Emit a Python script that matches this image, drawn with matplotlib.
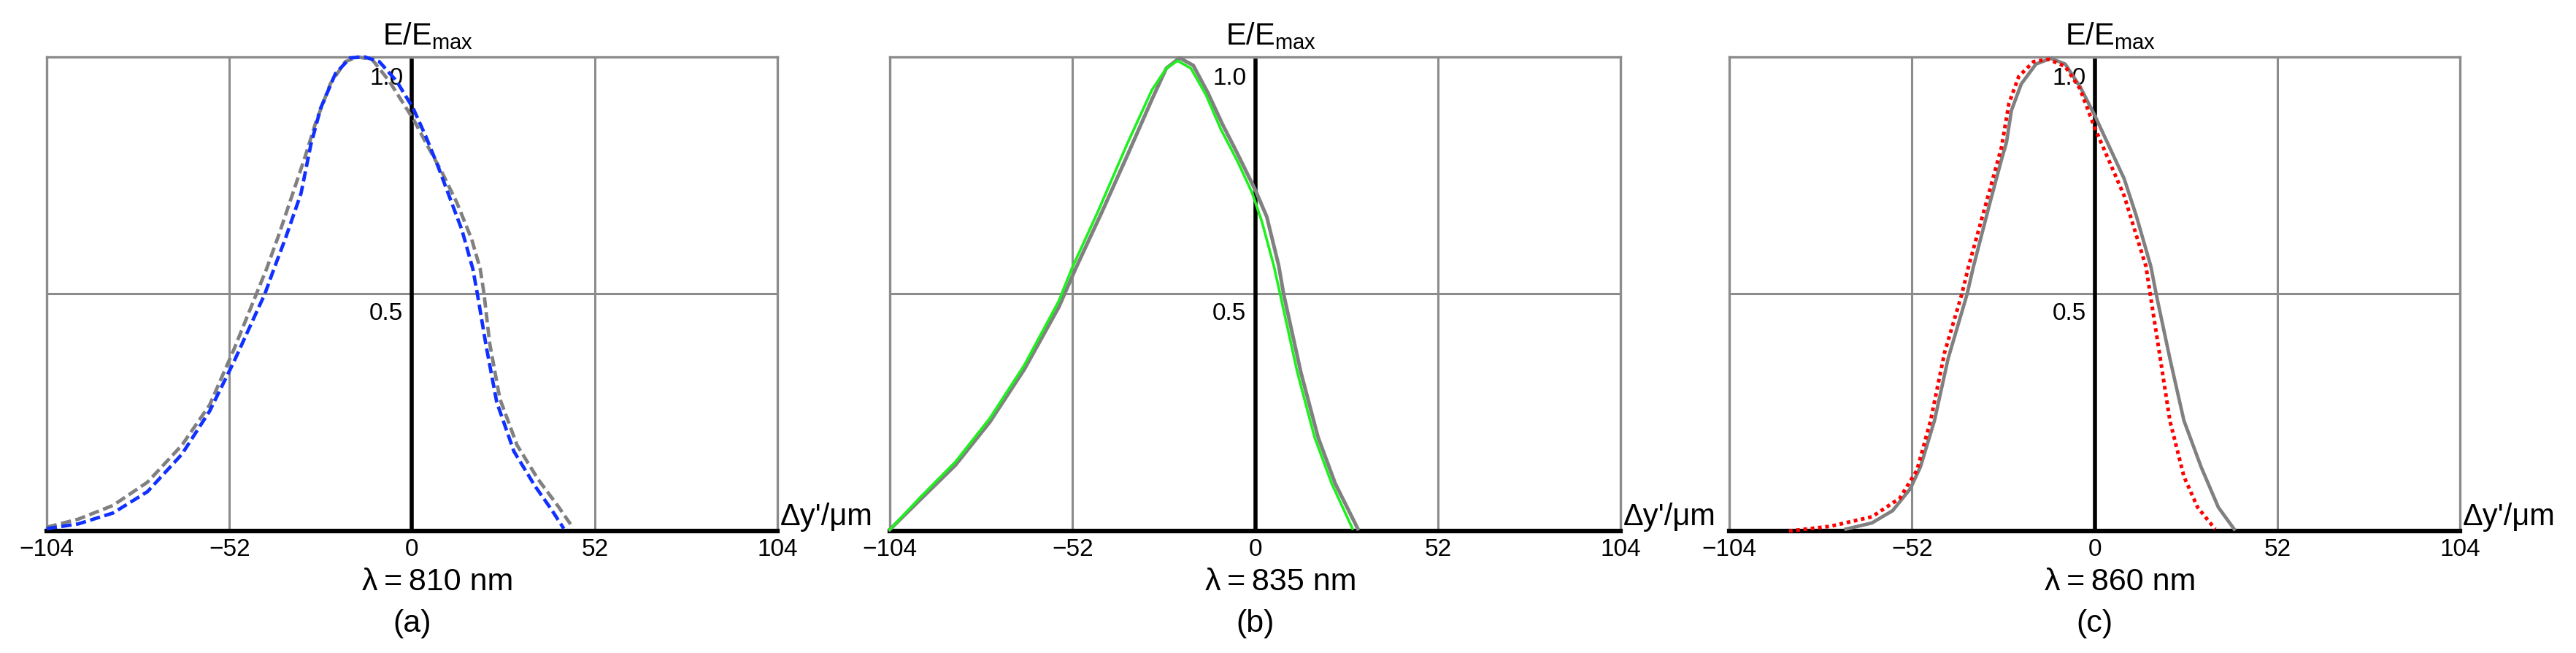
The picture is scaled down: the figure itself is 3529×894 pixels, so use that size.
import matplotlib
matplotlib.use("Agg")
import matplotlib.pyplot as plt

plt.rcParams['font.family'] = ['Liberation Sans', 'DejaVu Sans']
plt.rcParams['mathtext.fontset'] = 'custom'
plt.rcParams['mathtext.rm'] = 'Liberation Sans'
plt.rcParams['mathtext.it'] = 'Liberation Sans:italic'

# x ticks shared by all three panels
xticks = [-104, -52, 0, 52, 104]
xtick_labels = ['\u2212104', '\u221252', '0', '52', '104']

# (a) 810 nm
a_gray_x = [-104, -95, -85.1, -75.3, -65.5, -57.6, -50.7, -44.3, -41.4, -37.9, -34.4, -30.2,
            -27.4, -23.2, -19.0, -15.5, -11.4, -6.5, -3.0, 0.5, 4.6, 8.7, 12.8, 17.0, 19.4,
            20.5, 22.1, 25.0, 29.9, 35.8, 41.7, 45.7]
a_gray_y = [0.008, 0.025, 0.054, 0.103, 0.181, 0.266, 0.383, 0.50, 0.553, 0.625, 0.702, 0.795,
            0.862, 0.944, 0.99, 1.0, 0.995, 0.949, 0.908, 0.867, 0.81, 0.754, 0.692, 0.615, 0.553,
            0.50, 0.396, 0.279, 0.181, 0.11, 0.051, 0.008]
a_blue_x = [-104, -95, -85.1, -75.3, -65.5, -57.6, -50.7, -41.9, -39.3, -36.0, -31.6, -28.8,
            -26.0, -21.8, -17.6, -13.5, -9.3, -4.4, 0.3, 4.0, 7.4, 10.8, 14.2, 17.3, 18.6,
            21.1, 24.1, 29.0, 34.9, 39.8, 43.2]
a_blue_y = [0.005, 0.015, 0.038, 0.083, 0.162, 0.253, 0.357, 0.50, 0.553, 0.618, 0.712, 0.815,
            0.892, 0.965, 0.998, 1.0, 0.99, 0.949, 0.892, 0.831, 0.769, 0.702, 0.635, 0.553, 0.50,
            0.39, 0.272, 0.168, 0.096, 0.044, 0.005]

# (b) 835 nm
b_gray_x = [-104, -95.2, -85.3, -75.5, -65.7, -55.9, -51.0, -43.3, -36.4, -29.4, -25.3, -21.5,
            -17.6, -13.5, -9.3, -5.1, 0, 3.3, 6.7, 8.1, 13.0, 17.9, 22.8, 29.2]
b_gray_y = [0.003, 0.067, 0.139, 0.23, 0.341, 0.472, 0.555, 0.678, 0.792, 0.91, 0.976, 0.998,
            0.982, 0.925, 0.858, 0.797, 0.72, 0.663, 0.56, 0.5, 0.335, 0.198, 0.1, 0.005]
b_green_x = [-104, -95.2, -85.3, -75.5, -65.7, -55.9, -52.1, -44.8, -36.4, -29.4, -25.3, -22.1,
             -18.3, -14.0, -9.8, -5.1, -0.9, 1.9, 5.3, 7.1, 12.0, 16.9, 21.8, 27.7]
b_green_y = [0.003, 0.072, 0.146, 0.238, 0.35, 0.485, 0.555, 0.673, 0.817, 0.93, 0.976, 0.992,
             0.976, 0.92, 0.848, 0.781, 0.714, 0.653, 0.56, 0.5, 0.335, 0.198, 0.1, 0.005]

# (c) 860 nm
c_gray_x = [-70.8, -63.4, -57.5, -52.5, -49.6, -45.6, -41.7, -36.3, -34.5, -30.0, -26.5, -25.1,
            -23.7, -20.9, -16.7, -12.5, -8.4, -4.2, 0, 4.2, 8.4, 11.8, 16.0, 17.5, 21.4, 25.4,
            30.3, 35.2, 39.7]
c_gray_y = [0.004, 0.017, 0.043, 0.089, 0.135, 0.233, 0.364, 0.5, 0.558, 0.687, 0.784, 0.82,
            0.887, 0.943, 0.985, 0.997, 0.985, 0.938, 0.877, 0.81, 0.743, 0.666, 0.558, 0.5,
            0.364, 0.233, 0.135, 0.05, 0.004]
c_red_x = [-87.0, -75.2, -63.4, -55.5, -50.6, -46.7, -42.7, -37.8, -35.9, -30.7, -26.5, -24.4,
           -21.6, -17.4, -13.2, -8.4, -4.2, 0, 4.2, 8.4, 11.8, 14.6, 15.8, 18.4, 21.4, 25.4,
           29.3, 34.3]
c_red_y = [0.0, 0.01, 0.03, 0.069, 0.128, 0.233, 0.377, 0.5, 0.558, 0.697, 0.81, 0.902,
           0.959, 0.99, 0.995, 0.98, 0.933, 0.851, 0.779, 0.707, 0.625, 0.558, 0.5, 0.377,
           0.233, 0.115, 0.05, 0.004]

wavelengths = ['810', '835', '860']
panel_tags = ['(a)', '(b)', '(c)']

GRID = '#8c8c8c'
CURVE_GRAY = '#808080'

fig = plt.figure(figsize=(35.29, 8.94), dpi=100)
lefts = [0.0181, 0.3454, 0.6713]
axes = []

for i, left in enumerate(lefts):
    ax = fig.add_axes([left, 0.1868, 0.2837, 0.726])
    ax.set_xlim(-104, 104)
    ax.set_ylim(0, 1.0)
    for side in ['left', 'right', 'top']:
        ax.spines[side].set_color(GRID)
        ax.spines[side].set_linewidth(2.4)
    ax.spines['bottom'].set_color('black')
    ax.spines['bottom'].set_linewidth(4.5)
    ax.spines['bottom'].set_zorder(3)

    ax.axvline(-52, color=GRID, lw=2.2, zorder=1)
    ax.axvline(52, color=GRID, lw=2.2, zorder=1)
    ax.axhline(0.5, color=GRID, lw=2.2, zorder=1)
    ax.axvline(0, ymax=0.993, color='black', lw=4.0, zorder=2)

    ax.set_xticks(xticks, xtick_labels)
    ax.set_yticks([])
    ax.tick_params(axis='x', length=0, pad=7, labelsize=24)

    ax.text(-2.5, 0.955, '1.0', ha='right', va='center', fontsize=24, zorder=3)
    ax.text(-2.5, 0.458, '0.5', ha='right', va='center', fontsize=24, zorder=3)
    ax.text(-8.5, 1.026, r'E/E$_{\mathrm{max}}$', ha='left', va='baseline', fontsize=30)
    ax.text(1.004, 0.012, "\u0394y'/\u03bcm", transform=ax.transAxes,
            ha='left', va='baseline', fontsize=30)
    ax.text(7.3, -0.108, '\u03bb\u2009=\u2009' + wavelengths[i] + ' nm',
            transform=ax.get_xaxis_transform(), ha='center', va='center', fontsize=31)
    ax.text(0, -0.195, panel_tags[i], transform=ax.get_xaxis_transform(),
            ha='center', va='center', fontsize=31)
    axes.append(ax)

ax_a, ax_b, ax_c = axes

ax_a.plot(a_gray_x, a_gray_y, color=CURVE_GRAY, lw=3.4, dashes=(3, 1.3), zorder=4, clip_on=False)
ax_a.plot(a_blue_x, a_blue_y, color='#1030ff', lw=3.4, dashes=(3, 1.3), zorder=5, clip_on=False)

ax_b.plot(b_gray_x, b_gray_y, color=CURVE_GRAY, lw=3.6, zorder=4, clip_on=False)
ax_b.plot(b_green_x, b_green_y, color='#1ef01e', lw=2.6, zorder=5, clip_on=False)

ax_c.plot(c_gray_x, c_gray_y, color=CURVE_GRAY, lw=3.4, zorder=4, clip_on=False)
ax_c.plot(c_red_x, c_red_y, color='#ff0000', lw=3.6, dashes=(1, 1), dash_capstyle='butt',
          zorder=5, clip_on=False)

fig.savefig('out.png', dpi=100)
